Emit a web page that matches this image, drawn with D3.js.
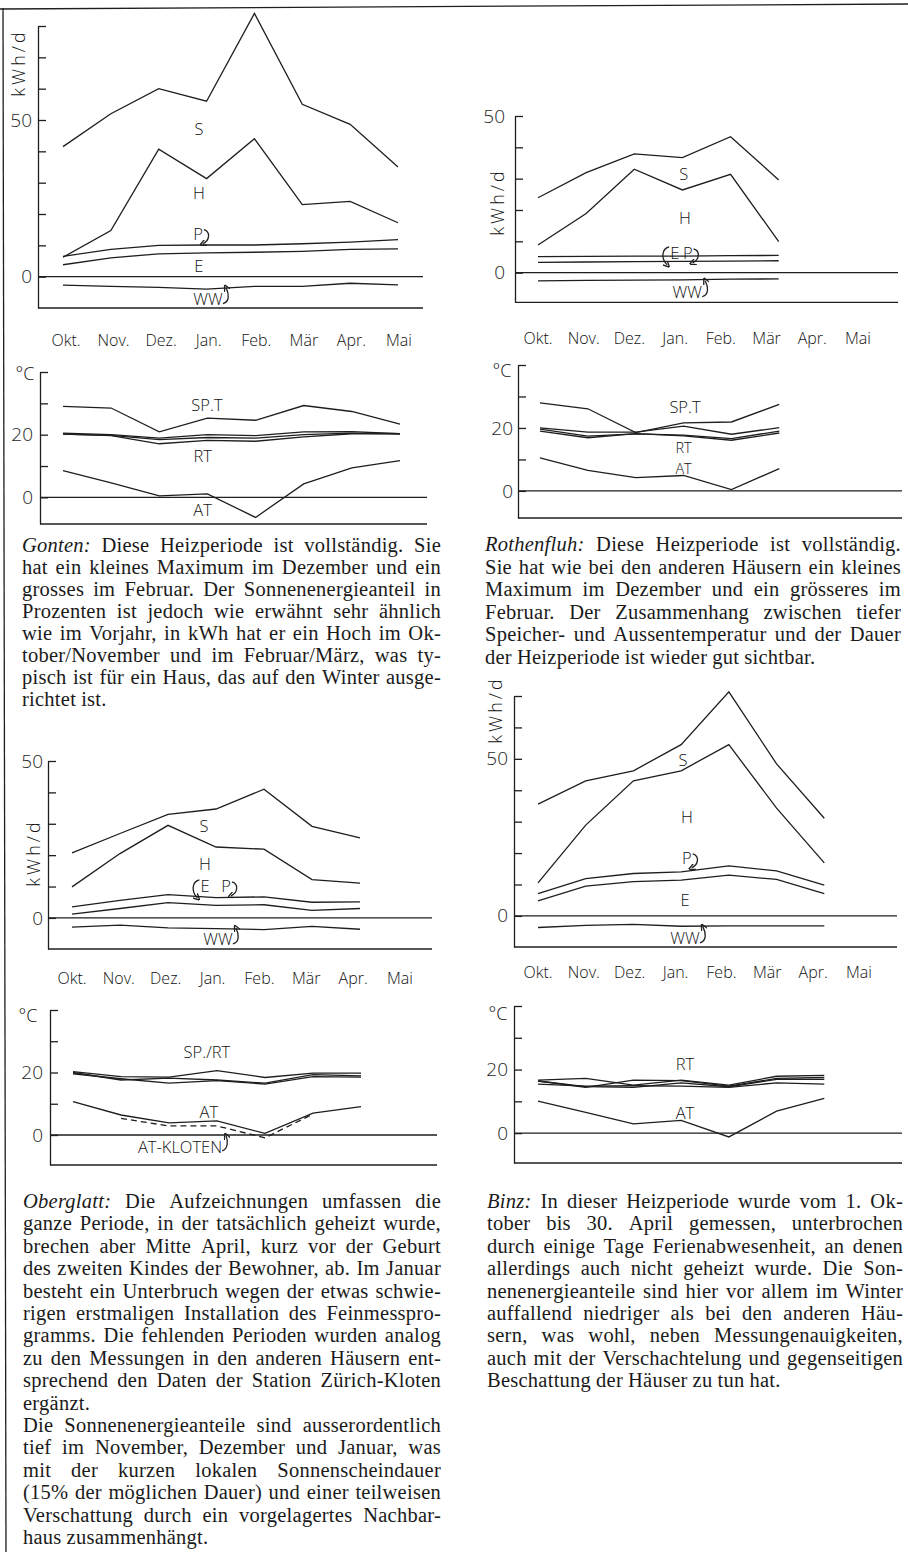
<!DOCTYPE html>
<html>
<head>
<meta charset="utf-8">
<script src="https://cdn.jsdelivr.net/npm/d3@7"></script>
<style>
  body { margin: 0; background: #fff; }
  svg { display: block; }
  .line { fill: none; stroke: #1e1e1e; stroke-width: 1.3; }
  .rule { stroke: #1e1e1e; stroke-width: 1.3; }
  .lab { font-family: "Open Sans", sans-serif; font-weight: 300; fill: #111; }
  .txt { font-family: "Liberation Serif", "Times New Roman", serif; font-size: 20.5px; letter-spacing: 0.25px; fill: #1a1a1a; }
</style>
</head>
<body>
<svg id="page" width="908" height="1552"></svg>
<script>
var months = ['Okt.', 'Nov.', 'Dez.', 'Jan.', 'Feb.', 'Mär', 'Apr.', 'Mai'];

// Gonten, kWh/d
var gontenS  = [41.5, 52, 60, 56, 84, 55, 48.6, 35];
var gontenH  = [6.2, 14.7, 40.7, 31.3, 44, 23, 24, 17.2];
var gontenP  = [6.5, 8.7, 10, 10.1, 10.1, 10.5, 11, 11.8];
var gontenE  = [3.8, 6, 7.3, 7.6, 7.8, 8.1, 8.7, 8.9];
var gontenWW = [-2.7, -3.1, -3.4, -4, -3.1, -3.1, -2.1, -2.6];
// Gonten, °C
var gontenSPT = [29, 28.5, 20.9, 25.3, 24.6, 29.3, 27.4, 23.4];
var gontenT1  = [20.5, 20, 18.9, 20, 19.7, 20.9, 21, 20.3];
var gontenT2  = [20.2, 19.8, 18.4, 19.1, 18.9, 20, 20.5, 20.3];
var gontenRT  = [20.2, 19.7, 17.1, 18.2, 17.9, 19.3, 20.3, 20.3];
var gontenAT  = [8.5, 4.6, 0.5, 1.1, -6.4, 4.3, 9.4, 11.7];

// Rothenfluh, kWh/d
var rothS  = [23.9, 31.9, 37.9, 36.7, 43.4, 29.6];
var rothH  = [8.8, 18.9, 33, 26.4, 31.4, 9.9];
var rothP  = [5.1, 5.2, 5.3, 5.3, 5.4, 5.5];
var rothE  = [3.3, 3.4, 3.5, 3.6, 3.7, 3.8];
var rothWW = [-2.6, -2.5, -2.4, -2.3, -2.1, -2.0];
// Rothenfluh, °C
var rothSPT = [28, 26.1, 18.5, 21.6, 21.9, 27.5];
var rothT1  = [20, 18.7, 18.7, 20.6, 18, 20.1];
var rothT2  = [19.6, 17.4, 18.1, 17.7, 16.6, 19];
var rothRT  = [19, 16.9, 18.2, 17.5, 16.1, 18.4];
var rothAT  = [10.5, 6.5, 4.2, 4.9, 0.4, 7.1];

// Oberglatt, kWh/d
var oberS  = [20.7, 26.9, 33, 34.7, 41, 29.2, 25.5];
var oberH  = [9.9, 20.5, 29.5, 22.6, 21.9, 12.2, 11.1];
var oberP  = [3.5, 5.6, 7.4, 6.5, 6.7, 5, 5.1];
var oberE  = [1.2, 3, 4.9, 4, 4.2, 2.4, 3];
var oberWW = [-2.9, -2.3, -3.2, -3.4, -3.7, -2.7, -3.6];
// Oberglatt, °C
var oberT1 = [20.3, 18.7, 18.5, 20.6, 18.4, 19.8, 19.8];
var oberT2 = [20, 17.6, 18.2, 17.6, 16.6, 19.3, 18.9];
var oberT3 = [19.6, 18, 16.6, 17.4, 16.3, 18.7, 18.5];
var oberAT = [10.7, 6.4, 3.9, 4.5, 0.5, 7, 9.1];
var oberKloten = [null, 5.3, 2.9, 2.9, -0.9, 6.7, null];

// Binz, kWh/d
var binzS  = [35.6, 43, 46.2, 54.5, 71.3, 48.4, 31.1];
var binzH  = [10.5, 28.9, 43, 46.2, 54.5, 34.3, 16.9];
var binzP  = [7.1, 11.9, 13.5, 14, 15.9, 14.3, 9.8];
var binzE  = [4.8, 9.5, 10.9, 11.4, 13, 11.6, 7.1];
var binzWW = [-3.7, -3, -2.7, -3.3, -3.2, -3.2, -3.2];
// Binz, °C
var binzT1 = [16.7, 17.2, 15.1, 16.7, 15.1, 17.9, 18.2];
var binzT2 = [16.4, 14.4, 16.7, 16.5, 14.8, 17.2, 17.5];
var binzT3 = [16.4, 14.6, 14.4, 15.8, 14.6, 16.9, 16.9];
var binzT4 = [15.4, 14.8, 14.9, 14.8, 14.4, 15.8, 15.4];
var binzAT = [10.1, 6.5, 2.9, 4, -1.2, 6.9, 10.9];

var gontenText = [
    '*Gonten: Diese Heizperiode ist vollständig. Sie',
    'hat ein kleines Maximum im Dezember und ein',
    'grosses im Februar. Der Sonnenenergieanteil in',
    'Prozenten ist jedoch wie erwähnt sehr ähnlich',
    'wie im Vorjahr, in kWh hat er ein Hoch im Ok-',
    'tober/November und im Februar/März, was ty-',
    'pisch ist für ein Haus, das auf den Winter ausge-',
    'richtet ist.'
];
var rothText = [
    '*Rothenfluh: Diese Heizperiode ist vollständig.',
    'Sie hat wie bei den anderen Häusern ein kleines',
    'Maximum im Dezember und ein grösseres im',
    'Februar. Der Zusammenhang zwischen tiefer',
    'Speicher- und Aussentemperatur und der Dauer',
    'der Heizperiode ist wieder gut sichtbar.'
];
var oberText = [
    '*Oberglatt: Die Aufzeichnungen umfassen die',
    'ganze Periode, in der tatsächlich geheizt wurde,',
    'brechen aber Mitte April, kurz vor der Geburt',
    'des zweiten Kindes der Bewohner, ab. Im Januar',
    'besteht ein Unterbruch wegen der etwas schwie-',
    'rigen erstmaligen Installation des Feinmesspro-',
    'gramms. Die fehlenden Perioden wurden analog',
    'zu den Messungen in den anderen Häusern ent-',
    'sprechend den Daten der Station Zürich-Kloten',
    'ergänzt.',
    'Die Sonnenenergieanteile sind ausserordentlich',
    'tief im November, Dezember und Januar, was',
    'mit der kurzen lokalen Sonnenscheindauer',
    '(15% der möglichen Dauer) und einer teilweisen',
    'Verschattung durch ein vorgelagertes Nachbar-',
    'haus zusammenhängt.'
];
var binzText = [
    '*Binz: In dieser Heizperiode wurde vom 1. Ok-',
    'tober bis 30. April gemessen, unterbrochen',
    'durch einige Tage Ferienabwesenheit, an denen',
    'allerdings auch nicht geheizt wurde. Die Son-',
    'nenenergieanteile sind hier vor allem im Winter',
    'auffallend niedriger als bei den anderen Häu-',
    'sern, was wohl, neben Messungenauigkeiten,',
    'auch mit der Verschachtelung und gegenseitigen',
    'Beschattung der Häuser zu tun hat.'
];

var svg = d3.select('#page');
var ink = '#1e1e1e';

svg.append('defs').append('marker')
    .attr('id', 'tip')
    .attr('viewBox', '0 0 6 6')
    .attr('refX', 3).attr('refY', 3)
    .attr('markerWidth', 5).attr('markerHeight', 5)
    .attr('orient', 'auto')
  .append('path')
    .attr('d', 'M0,0 L6,3 L0,6')
    .attr('fill', 'none')
    .attr('stroke', ink)
    .attr('stroke-width', 1.2);

// page frame (scan is slightly skewed)
svg.append('line').attr('class', 'rule').attr('x1', 0).attr('y1', 9).attr('x2', 908).attr('y2', 4);
svg.append('line').attr('class', 'rule').attr('x1', 3).attr('y1', 8).attr('x2', 6).attr('y2', 1552);

function arrowPath(kind, b, cy) {
    var l = b.x, r = b.x + b.width;
    if (kind === 'down') return 'M' + (r + 1) + ',' + (cy - 4) + ' C' + (r + 8) + ',' + (cy - 2) + ' ' + (r + 7) + ',' + (cy + 7) + ' ' + (r) + ',' + (cy + 10);
    if (kind === 'left') return 'M' + (l - 1) + ',' + (cy - 6) + ' C' + (l - 9) + ',' + (cy - 4) + ' ' + (l - 9) + ',' + (cy + 6) + ' ' + (l - 3) + ',' + (cy + 12);
    if (kind === 'up') return 'M' + (r) + ',' + (cy + 5) + ' C' + (r + 7) + ',' + (cy + 3) + ' ' + (r + 6) + ',' + (cy - 5) + ' ' + (r + 3) + ',' + (cy - 11);
    return 'M' + (r) + ',' + (cy + 4) + ' C' + (r + 6) + ',' + (cy + 2) + ' ' + (r + 6) + ',' + (cy - 6) + ' ' + (r + 4) + ',' + (cy - 11);
}

function drawChart(c) {
    var g = svg.append('g');
    var x = d3.scaleLinear().domain([0, 7]).range(c.xr);
    var y = d3.scaleLinear().domain(c.yd).range(c.yr);

    var axis = d3.axisLeft(y)
        .tickValues(d3.range(0, c.yd[1] + 1, 10))
        .tickSizeInner(-8)
        .tickSizeOuter(0)
        .tickPadding(c.pad)
        .tickFormat(d => c.tickLabels.indexOf(d) >= 0 ? d : '');

    g.append('g')
        .attr('transform', 'translate(' + c.ax + ',0)')
        .call(axis)
        .attr('font-family', '"Open Sans", sans-serif')
        .attr('font-weight', 300)
        .attr('font-size', 19)
        .style('color', ink)
        .selectAll('line, path').attr('stroke-width', 1.3);

    // zero line and floor
    [0, c.yd[0]].forEach(function(v) {
        g.append('line').attr('class', 'rule')
            .attr('x1', c.ax).attr('x2', c.right)
            .attr('y1', y(v)).attr('y2', y(v));
    });

    var line = d3.line()
        .defined(d => d != null)
        .x((d, i) => x(i))
        .y(d => y(d));

    c.series.forEach(function(s) {
        g.append('path')
            .attr('class', 'line')
            .attr('stroke-dasharray', s.dash || null)
            .attr('d', line(s.values));
    });

    c.notes.forEach(function(n) {
        var t = g.append('text')
            .attr('class', 'lab')
            .attr('font-size', n.size || 16.5)
            .attr('text-anchor', 'middle')
            .attr('dominant-baseline', 'central')
            .attr('x', x(n.i))
            .attr('y', y(n.v))
            .text(n.t);
        if (n.arrow) {
            var b = t.node().getBBox();
            g.append('path')
                .attr('class', 'line')
                .attr('stroke-width', 1.1)
                .attr('marker-end', 'url(#tip)')
                .attr('d', arrowPath(n.arrow, b, y(n.v)));
        }
    });

    if (c.unit === 'kWh/d') {
        g.append('text')
            .attr('class', 'lab')
            .attr('font-size', 18)
            .attr('letter-spacing', 3)
            .attr('text-anchor', 'middle')
            .attr('dominant-baseline', 'central')
            .attr('transform', 'translate(' + c.unitPos[0] + ',' + c.unitPos[1] + ') rotate(-90)')
            .text(c.unit);
    } else {
        g.append('text')
            .attr('class', 'lab')
            .attr('font-size', 18)
            .attr('text-anchor', 'middle')
            .attr('dominant-baseline', 'central')
            .attr('x', c.unitPos[0])
            .attr('y', c.unitPos[1])
            .text(c.unit);
    }

    if (c.monthRange) {
        var mx = d3.scalePoint().domain(months).range(c.monthRange);
        g.selectAll('.month')
            .data(months)
            .enter().append('text')
            .attr('class', 'lab month')
            .attr('font-size', 16)
            .attr('text-anchor', 'middle')
            .attr('dominant-baseline', 'central')
            .attr('x', d => mx(d))
            .attr('y', c.monthY)
            .text(d => d);
    }
}

function ser(v, dash) { return {values: v, dash: dash}; }

var charts = [
    {   // Gonten kWh
        ax: 38, right: 423, xr: [63, 398], yd: [-10, 80], yr: [308, 26], pad: 6,
        tickLabels: [0, 50], unit: 'kWh/d', unitPos: [18, 63],
        monthRange: [66, 399], monthY: 340,
        series: [ser(gontenS), ser(gontenH), ser(gontenP), ser(gontenE), ser(gontenWW)],
        notes: [{t: 'S', i: 2.84, v: 47.2}, {t: 'H', i: 2.84, v: 26.8},
                {t: 'P', i: 2.82, v: 13.7, arrow: 'down'}, {t: 'E', i: 2.84, v: 3.5},
                {t: 'WW', i: 3.03, v: -7, arrow: 'up'}]
    },
    {   // Gonten °C
        ax: 40, right: 427, xr: [63, 400], yd: [-8.5, 40], yr: [524, 372], pad: 7,
        tickLabels: [0, 20], unit: '°C', unitPos: [25, 373],
        series: [ser(gontenSPT), ser(gontenT1), ser(gontenT2), ser(gontenRT), ser(gontenAT)],
        notes: [{t: 'SP.T', i: 2.99, v: 29.5}, {t: 'RT', i: 2.9, v: 13.5}, {t: 'AT', i: 2.9, v: -4}]
    },
    {   // Rothenfluh kWh
        ax: 515, right: 898, xr: [538, 875], yd: [-9.5, 50], yr: [302.4, 116], pad: 10,
        tickLabels: [0, 50], unit: 'kWh/d', unitPos: [497, 202],
        monthRange: [538, 858], monthY: 338,
        series: [ser(rothS), ser(rothH), ser(rothP), ser(rothE), ser(rothWW)],
        notes: [{t: 'S', i: 3.03, v: 31.8}, {t: 'H', i: 3.05, v: 17.5},
                {t: 'E', i: 2.84, v: 6.3, arrow: 'left'}, {t: 'P', i: 3.11, v: 6.3, arrow: 'down'},
                {t: 'WW', i: 3.1, v: -6.1, arrow: 'up'}]
    },
    {   // Rothenfluh °C
        ax: 518, right: 902, xr: [540, 875], yd: [-8.6, 40], yr: [518, 365], pad: 5,
        tickLabels: [0, 20], unit: '°C', unitPos: [502, 370],
        series: [ser(rothSPT), ser(rothT1), ser(rothT2), ser(rothRT), ser(rothAT)],
        notes: [{t: 'SP.T', i: 3.03, v: 26.7}, {t: 'RT', i: 3, v: 13.9, size: 14.5},
                {t: 'AT', i: 3, v: 7.2, size: 14.5}]
    },
    {   // Oberglatt kWh
        ax: 48, right: 432, xr: [72, 408], yd: [-9.9, 50], yr: [949, 761], pad: 5,
        tickLabels: [0, 50], unit: 'kWh/d', unitPos: [33, 853],
        monthRange: [72, 400], monthY: 978,
        series: [ser(oberS), ser(oberH), ser(oberP), ser(oberE), ser(oberWW)],
        notes: [{t: 'S', i: 2.75, v: 29.6}, {t: 'H', i: 2.77, v: 17.5},
                {t: 'E', i: 2.77, v: 10.2, arrow: 'left'}, {t: 'P', i: 3.21, v: 10.2, arrow: 'down'},
                {t: 'WW', i: 3.04, v: -6.7, arrow: 'up'}]
    },
    {   // Oberglatt °C
        ax: 50, right: 437, xr: [73, 409], yd: [-9.6, 40], yr: [1165, 1010], pad: 7,
        tickLabels: [0, 20], unit: '°C', unitPos: [28, 1015],
        series: [ser(oberT1), ser(oberT2), ser(oberT3), ser(oberAT), ser(oberKloten, '6,4')],
        notes: [{t: 'SP./RT', i: 2.79, v: 26.6}, {t: 'AT', i: 2.83, v: 7.4},
                {t: 'AT-KLOTEN', i: 2.23, v: -3.8, arrow: 'upright'}]
    },
    {   // Binz kWh
        ax: 514, right: 897, xr: [538, 872], yd: [-9.9, 70], yr: [947, 696], pad: 6,
        tickLabels: [0, 50], unit: 'kWh/d', unitPos: [495, 710],
        monthRange: [538, 859], monthY: 972,
        series: [ser(binzS), ser(binzH), ser(binzP), ser(binzE), ser(binzWW)],
        notes: [{t: 'S', i: 3.04, v: 49.7}, {t: 'H', i: 3.12, v: 31.5},
                {t: 'P', i: 3.12, v: 18.5, arrow: 'down'}, {t: 'E', i: 3.08, v: 5.1},
                {t: 'WW', i: 3.08, v: -7, arrow: 'up'}]
    },
    {   // Binz °C
        ax: 514, right: 902, xr: [538, 872], yd: [-9.4, 40], yr: [1163, 1006], pad: 6,
        tickLabels: [0, 20], unit: '°C', unitPos: [498, 1013],
        series: [ser(binzT1), ser(binzT2), ser(binzT3), ser(binzT4), ser(binzAT)],
        notes: [{t: 'RT', i: 3.08, v: 22}, {t: 'AT', i: 3.08, v: 6.6}]
    }
];

charts.forEach(drawChart);

// justified paragraph text, one svg text per line
function paragraph(lines, x0, x1, y0, lh, ends) {
    var g = svg.append('g').attr('class', 'txt');
    lines.forEach(function(line, i) {
        var text = g.append('text').attr('y', y0 + i * lh);
        var italic = line.charAt(0) === '*';
        var words = (italic ? line.slice(1) : line).split(' ').map(function(w, k) {
            var s = text.append('tspan').text(w)
                .style('font-style', italic && k === 0 ? 'italic' : null);
            return {s: s, w: s.node().getComputedTextLength()};
        });
        var total = d3.sum(words, d => d.w);
        var gap = ends.indexOf(i) >= 0 ? 5 : Math.max(3, (x1 - x0 - total) / (words.length - 1));
        var cx = x0;
        words.forEach(function(d) {
            d.s.attr('x', cx);
            cx += d.w + gap;
        });
    });
}

paragraph(gontenText, 22, 441, 552, 22, [7]);
paragraph(rothText, 485, 901, 551, 22.6, [5]);
paragraph(oberText, 23, 441, 1208, 22.4, [9, 15]);
paragraph(binzText, 487, 903, 1208, 22.4, [8]);
</script>
</body>
</html>
